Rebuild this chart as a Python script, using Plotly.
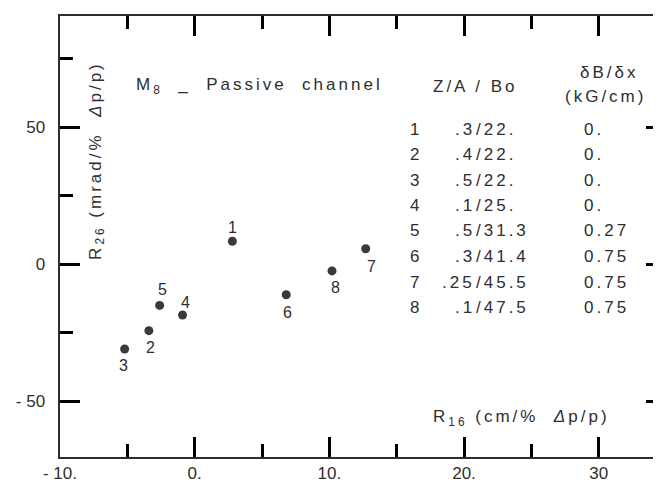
import plotly.graph_objects as go

# ---------------- data ----------------
point_ids = ["1", "2", "3", "4", "5", "6", "7", "8"]
r16 = [2.8, -3.4, -5.2, -0.9, -2.6, 6.8, 12.7, 10.2]          # cm / % dp/p
r26 = [8.3, -24.3, -31.0, -18.6, -15.1, -11.2, 5.6, -2.5]     # mrad / % dp/p
za_bo = [".3/22.", ".4/22.", ".5/22.", ".1/25.", ".5/31.3", ".3/41.4", ".25/45.5", ".1/47.5"]
db_dx = ["0.", "0.", "0.", "0.", "0.27", "0.75", "0.75", "0.75"]

x_tick_vals = [-10, 0, 10, 20, 30]
x_tick_text = ["- 10.", "0.", "10.", "20.", "30"]
y_tick_vals = [-50, 0, 50]
y_tick_text = ["- 50", "0", "50"]

# ---------------- layout helpers ----------------
W, H = 661, 482
L, R, T, B = 52, 660, 8, 449          # plot area in pixels
INK = "#2e2e2e"
TICK = "black"
FONT = "Liberation Sans, Arial, sans-serif"
LS = "letter-spacing:3px"
NB = "\u00a0"


def px(x):
    return (x - L) / (R - L)


def py(y):
    return 1 - (y - T) / (B - T)


def sp(s):
    return f'<span style="{LS}">{s}</span>'


def default_label(v):
    return str(v).replace("-", "\u2212")


x_alias = {default_label(v): t for v, t in zip(x_tick_vals, x_tick_text)}
y_alias = {default_label(v): t + NB * 2 for v, t in zip(y_tick_vals, y_tick_text)}

# label offsets (screen px) for the point numbers
label_dx = [0, 2, -1, 3, 3, 1, 6, 3]
label_dy = [-14, 17, 16, -13, -16, 18, 18, 17]

fig = go.Figure()
fig.add_trace(go.Scatter(
    x=r16, y=r26, mode="markers",
    marker=dict(size=9, color="#3a3a3a"),
    hoverinfo="skip", showlegend=False,
))

ann = []
for i, pid in enumerate(point_ids):
    ann.append(dict(x=r16[i], y=r26[i], xref="x", yref="y", text=pid,
                    showarrow=False, xshift=label_dx[i], yshift=-label_dy[i],
                    font=dict(size=16, color=INK, family=FONT)))

txt = dict(showarrow=False, xref="paper", yref="paper",
           font=dict(size=17, color=INK, family=FONT))

ann.append(dict(txt, x=px(89), y=py(152), xanchor="center", yanchor="middle",
                textangle=-90,
                text=sp("R<sub>26</sub> (mrad/%  <i>Δ</i>p/p)")))
ann.append(dict(txt, x=px(515), y=py(410), xanchor="center", yanchor="middle",
                text=sp("R<sub>16</sub> (cm/%  <i>Δ</i>p/p)")))
ann.append(dict(txt, x=px(126), y=py(78), xanchor="left", yanchor="middle",
                text=sp("M<sub>8</sub>  _  Passive  channel")))
ann.append(dict(txt, x=px(468), y=py(78), xanchor="center", yanchor="middle",
                text=sp("Z/A / Bo")))
ann.append(dict(txt, x=px(603), y=py(64), xanchor="center", yanchor="middle",
                text=sp("δB/δx")))
ann.append(dict(txt, x=px(599), y=py(89), xanchor="center", yanchor="middle",
                text=sp("(kG/cm)")))

row_y0, row_dy = 121, 25.5
for i, pid in enumerate(point_ids):
    yy = py(row_y0 + row_dy * i)
    left, right = za_bo[i].split("/")
    ann.append(dict(txt, x=px(408), y=yy, xanchor="center", yanchor="middle", text=pid))
    ann.append(dict(txt, x=px(470), y=yy, xanchor="right", yanchor="middle", text=sp(left)))
    ann.append(dict(txt, x=px(467), y=yy, xanchor="left", yanchor="middle", text=sp("/" + right)))
    ann.append(dict(txt, x=px(576), y=yy, xanchor="left", yanchor="middle", text=sp(db_dx[i])))

fig.update_layout(
    width=W, height=H,
    margin=dict(l=L, r=W - R, t=T, b=H - B, pad=0),
    paper_bgcolor="white", plot_bgcolor="white",
    annotations=ann,
    font=dict(family=FONT, color=INK),
)

axis_common = dict(
    showline=True, linecolor=INK, linewidth=2, mirror="allticks",
    ticks="inside", ticklen=20, tickwidth=2.5, tickcolor=TICK,
    showgrid=False, zeroline=False,
    tickfont=dict(size=17, color=INK, family=FONT),
    tickmode="linear",
)
fig.update_xaxes(
    axis_common, range=[-10, 35.0], tick0=-10, dtick=10, labelalias=x_alias,
    minor=dict(dtick=5, ticks="inside", ticklen=13, tickwidth=2.5, tickcolor=TICK),
)
fig.update_yaxes(
    axis_common, range=[-70.4, 90.5], tick0=0, dtick=50, labelalias=y_alias,
    minor=dict(dtick=25, ticks="inside", ticklen=13, tickwidth=2.5, tickcolor=TICK),
)

fig.write_html("out.html")
